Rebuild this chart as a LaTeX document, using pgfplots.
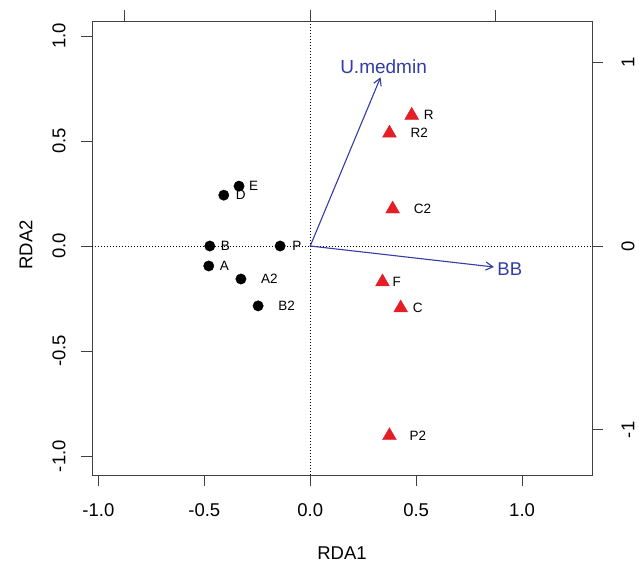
\documentclass[border=0pt]{standalone}
\usepackage{fontspec}
\setmainfont{Liberation Sans}
\usepackage{pgfplots}
\usepackage{pgfplotstable}
\pgfplotsset{compat=1.18}
\usetikzlibrary{arrows.meta}
\definecolor{vecblue}{RGB}{50,60,165}
\definecolor{trired}{RGB}{228,30,38}

% site scores, label offset (pt) to the right
\pgfplotstableread{
x      y      lab dx
-0.336  0.285 E   10
-0.408  0.242 D   12
-0.474  0.000 B   11
-0.142  0.000 P   12
-0.479 -0.095 A   11
-0.327 -0.157 A2  20
-0.246 -0.285 B2  20
}\circsites
\pgfplotstableread{
x      y      lab dx
 0.479  0.622 R   12
 0.374  0.537 R2  21
 0.389  0.176 C2  21
 0.341 -0.171 F   10
 0.427 -0.295 C   12
 0.374 -0.903 P2  20
}\trisites

\begin{document}
\begin{tikzpicture}
\useasboundingbox (-92pt,-89pt) rectangle (547pt,475pt);
\begin{axis}[
    scale only axis,
    width=500pt, height=454pt,
    xmin=-1.03, xmax=1.33, ymin=-1.090, ymax=1.071,
    axis line style={black!75, line width=0.8pt},
    xtick={-1,-0.5,0,0.5,1}, xticklabels={-1.0,-0.5,0.0,0.5,1.0},
    ytick={-1,-0.5,0,0.5,1}, yticklabels={-1.0,-0.5,0.0,0.5,1.0},
    xtick pos=bottom, ytick pos=left,
    tick align=outside, major tick length=11pt,
    tick style={black!75, line width=0.8pt},
    ticklabel style={font=\fontsize{18.5}{20}\selectfont},
    xticklabel shift=14pt, yticklabel shift=12pt,
    yticklabel style={rotate=90, anchor=south},
    xlabel={RDA1}, ylabel={RDA2},
    every axis x label/.style={at={(axis description cs:0.5,0)}, yshift=-78pt, anchor=center, font=\fontsize{18.5}{20}\selectfont},
    every axis y label/.style={at={(axis description cs:0,0.507)}, xshift=-66pt, anchor=center, rotate=90, font=\fontsize{18.5}{20}\selectfont},
    clip=false,
]
\addplot[black, line width=0.8pt, dash pattern=on 1pt off 2pt] coordinates {(-1.03,0) (1.33,0)};
\addplot[black, line width=0.8pt, dash pattern=on 1pt off 2pt] coordinates {(0,-1.090) (0,1.071)};

\addplot[vecblue, line width=1.1pt, -{Straight Barb[length=7pt, width=8pt]}] coordinates {(0,0) (0.332,0.803)}
    node[pos=1, anchor=south, inner sep=0pt, xshift=3pt, yshift=3pt, font=\fontsize{19}{20}\selectfont, text=vecblue] {U.medmin};
\addplot[vecblue, line width=1.1pt, -{Straight Barb[length=7pt, width=8pt]}] coordinates {(0,0) (0.867,-0.100)}
    node[pos=1, anchor=base west, inner sep=0pt, xshift=3pt, yshift=-8pt, font=\fontsize{18.5}{20}\selectfont, text=vecblue] {BB};

\addplot[only marks, mark=*, mark size=5.2pt, black,
    point meta=explicit symbolic,
    visualization depends on={\thisrow{dx} \as \dx},
    nodes near coords,
    every node near coord/.style={anchor=west, inner sep=0pt, xshift=\dx, text=black, font=\fontsize{13.5}{14}\selectfont}]
    table[x=x, y=y, meta=lab] {\circsites};
\addplot[only marks, mark=triangle*, mark size=8pt, trired, fill=trired,
    point meta=explicit symbolic,
    visualization depends on={\thisrow{dx} \as \dx},
    nodes near coords,
    every node near coord/.style={anchor=west, inner sep=0pt, xshift=\dx, text=black, font=\fontsize{13.5}{14}\selectfont}]
    table[x=x, y=y, meta=lab] {\trisites};
\end{axis}
\begin{axis}[
    scale only axis,
    width=500pt, height=454pt,
    xmin=-1.03, xmax=1.33, ymin=-1.090, ymax=1.071,
    axis x line*=top, axis y line*=right,
    axis line style={-, black!75, line width=0.8pt},
    xtick={-0.875,0,0.875}, xticklabels={},
    ytick={-0.875,0,0.875}, yticklabels={-1,0,1},
    tick align=outside, major tick length=11pt,
    tick style={black!75, line width=0.8pt},
    ticklabel style={font=\fontsize{18.5}{20}\selectfont},
    yticklabel shift=15pt,
    yticklabel style={rotate=90, anchor=north},
]
\end{axis}
\end{tikzpicture}
\end{document}
